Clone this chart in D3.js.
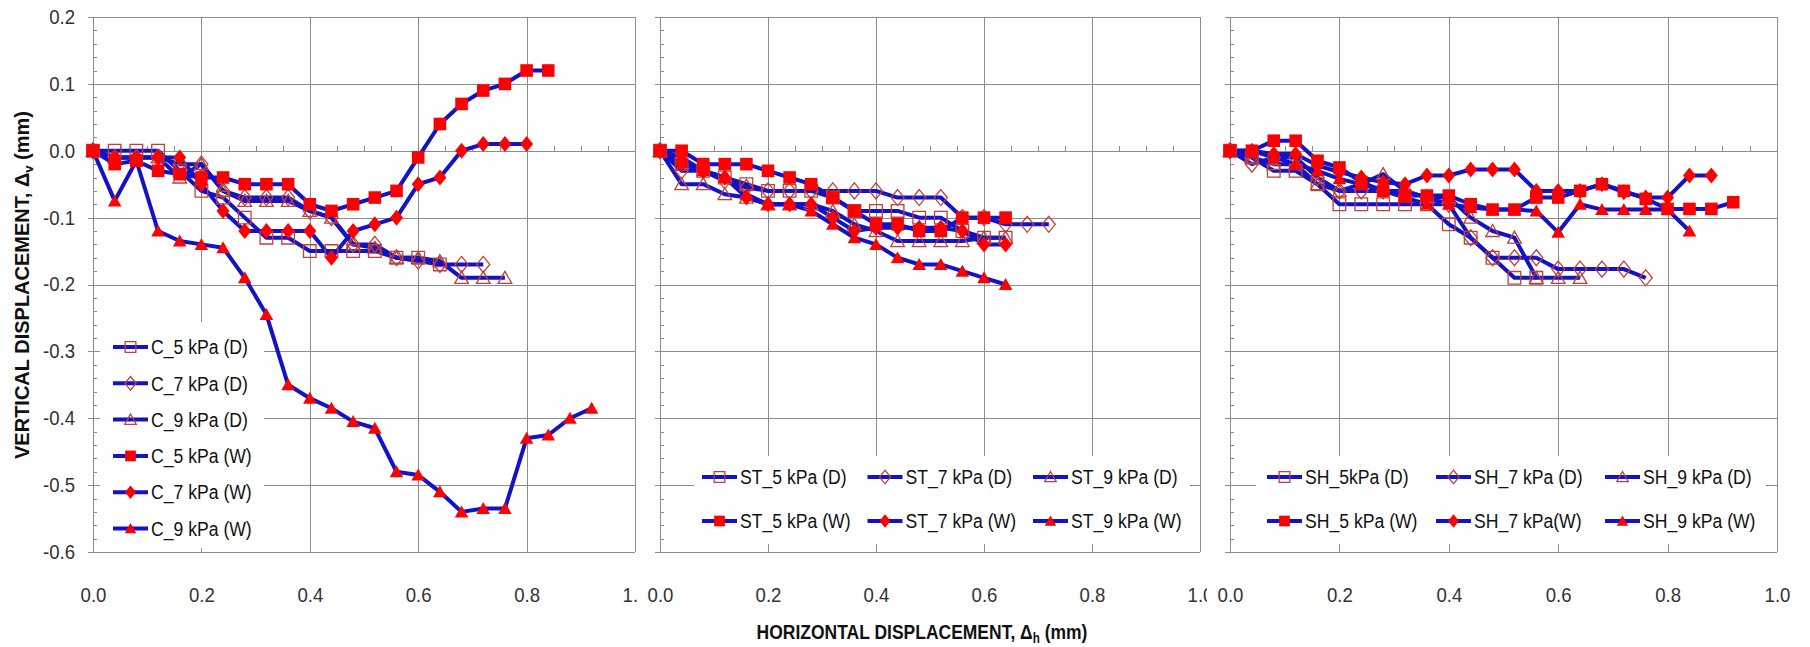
<!DOCTYPE html>
<html>
<head>
<meta charset="utf-8">
<script src="https://cdn.jsdelivr.net/npm/d3@7"></script>
<style>
body { margin: 0; background: #fff; }
svg { display: block; }
.tick text { font-family: 'Liberation Sans', Arial, sans-serif; font-size: 20px; fill: #333; }
.grid line { stroke: #8c8c8c; stroke-width: 1; shape-rendering: crispEdges; }
.grid path { display: none; }
.axis path, .axis line { stroke: #8c8c8c; stroke-width: 1; shape-rendering: crispEdges; }
.legend text { font-family: 'Liberation Sans', Arial, sans-serif; font-size: 20px; fill: #111; }
</style>
</head>
<body>
<div id="chart"></div>
<script>
// horizontal displacement steps (mm) shared by every series
var xSteps = [0, 0.04, 0.08, 0.12, 0.16, 0.2, 0.24, 0.28, 0.32, 0.36, 0.4, 0.44, 0.48, 0.52, 0.56, 0.6, 0.64, 0.68, 0.72, 0.76, 0.8, 0.84, 0.88, 0.92];
var xTicks = [0, 0.2, 0.4, 0.6, 0.8, 1.0];
var yTicks = [0.2, 0.1, 0, -0.1, -0.2, -0.3, -0.4, -0.5, -0.6];

// C panel, vertical displacement (mm)
var cNames = ["C_5 kPa (D)", "C_7 kPa (D)", "C_9 kPa (D)", "C_5 kPa (W)", "C_7 kPa (W)", "C_9 kPa (W)"];
var c5D = [0, 0, 0, 0, -0.03, -0.06, -0.07, -0.10, -0.13, -0.13, -0.15, -0.15, -0.15, -0.15, -0.16, -0.16, -0.17];
var c7D = [0, -0.01, -0.01, -0.01, -0.02, -0.02, -0.06, -0.07, -0.07, -0.07, -0.09, -0.10, -0.14, -0.14, -0.16, -0.165, -0.17, -0.17, -0.17];
var c9D = [0, -0.01, -0.01, -0.01, -0.04, -0.02, -0.06, -0.075, -0.075, -0.075, -0.09, -0.10, -0.14, -0.145, -0.16, -0.16, -0.165, -0.19, -0.19, -0.19];
var c5W = [0, -0.02, -0.015, -0.03, -0.035, -0.04, -0.04, -0.05, -0.05, -0.05, -0.08, -0.09, -0.08, -0.07, -0.06, -0.01, 0.04, 0.07, 0.09, 0.10, 0.12, 0.12];
var c7W = [0, -0.01, -0.01, -0.01, -0.01, -0.05, -0.09, -0.12, -0.12, -0.12, -0.12, -0.16, -0.12, -0.11, -0.10, -0.05, -0.04, 0, 0.01, 0.01, 0.01];
var c9W = [0, -0.075, -0.015, -0.12, -0.135, -0.14, -0.145, -0.19, -0.245, -0.35, -0.37, -0.385, -0.405, -0.415, -0.48, -0.485, -0.51, -0.54, -0.535, -0.535, -0.43, -0.425, -0.40, -0.385];

// ST panel
var stNames = ["ST_5 kPa (D)", "ST_7 kPa (D)", "ST_9 kPa (D)", "ST_5 kPa (W)", "ST_7 kPa (W)", "ST_9 kPa (W)"];
var st5D = [0, -0.02, -0.03, -0.04, -0.05, -0.06, -0.06, -0.06, -0.07, -0.09, -0.09, -0.09, -0.10, -0.10, -0.12, -0.13, -0.13];
var st7D = [0, -0.03, -0.03, -0.045, -0.055, -0.06, -0.06, -0.06, -0.06, -0.06, -0.06, -0.07, -0.07, -0.07, -0.10, -0.10, -0.11, -0.11, -0.11];
var st9D = [0, -0.05, -0.05, -0.065, -0.07, -0.08, -0.08, -0.08, -0.09, -0.11, -0.12, -0.135, -0.135, -0.135, -0.135, -0.13, -0.13];
var st5W = [0, 0, -0.02, -0.02, -0.02, -0.03, -0.04, -0.05, -0.07, -0.09, -0.11, -0.11, -0.12, -0.12, -0.10, -0.10, -0.10];
var st7W = [0, -0.02, -0.03, -0.04, -0.07, -0.08, -0.08, -0.08, -0.10, -0.12, -0.115, -0.115, -0.115, -0.115, -0.12, -0.14, -0.14];
var st9W = [0, -0.01, -0.03, -0.04, -0.065, -0.08, -0.08, -0.09, -0.11, -0.13, -0.14, -0.16, -0.17, -0.17, -0.18, -0.19, -0.20];

// SH panel
var shNames = ["SH_5kPa (D)", "SH_7 kPa (D)", "SH_9 kPa (D)", "SH_5 kPa (W)", "SH_7 kPa(W)", "SH_9 kPa (W)"];
var sh5D = [0, -0.01, -0.03, -0.03, -0.05, -0.08, -0.08, -0.08, -0.08, -0.08, -0.11, -0.13, -0.16, -0.19, -0.19];
var sh7D = [0, -0.02, -0.01, -0.01, -0.04, -0.06, -0.06, -0.06, -0.06, -0.07, -0.08, -0.13, -0.16, -0.16, -0.16, -0.177, -0.177, -0.177, -0.177, -0.19];
var sh9D = [0, -0.01, -0.02, -0.02, -0.05, -0.06, -0.05, -0.035, -0.06, -0.07, -0.07, -0.10, -0.12, -0.13, -0.19, -0.19, -0.19];
var sh5W = [0, 0, 0.015, 0.015, -0.015, -0.025, -0.047, -0.06, -0.067, -0.067, -0.067, -0.08, -0.088, -0.088, -0.07, -0.07, -0.06, -0.05, -0.06, -0.072, -0.087, -0.087, -0.087, -0.077];
var sh7W = [0, 0, -0.005, -0.005, -0.022, -0.032, -0.04, -0.047, -0.05, -0.037, -0.037, -0.028, -0.028, -0.028, -0.06, -0.06, -0.06, -0.05, -0.062, -0.07, -0.07, -0.037, -0.037];
var sh9W = [0, 0, -0.01, -0.02, -0.03, -0.042, -0.05, -0.06, -0.07, -0.08, -0.08, -0.085, -0.088, -0.088, -0.09, -0.122, -0.08, -0.088, -0.088, -0.088, -0.088, -0.12];

var width = 1810, height = 647;
var yTop = 17, yBot = 552;
var lineColor = '#1212c8';
var shapes = ['square', 'diamond', 'triangle', 'square', 'diamond', 'triangle'];

// only the first chart shows its y labels, the others are hidden under their neighbour
var panels = [
	{x0: 93, x1: 635, left: 0, right: 637, ylabels: true, names: cNames, values: [c5D, c7D, c9D, c5W, c7W, c9W],
		legend: {box: [100, 322, 164, 226], x: 113, y: 347, dx: 0, dy: 36.3, cols: 1}},
	{x0: 660, x1: 1200, left: 637, right: 1207, ylabels: false, names: stNames, values: [st5D, st7D, st9D, st5W, st7W, st9W],
		legend: {box: [694, 456, 496, 88], x: 702, y: 477, dx: 165.5, dy: 44, cols: 3}},
	{x0: 1230, x1: 1777, left: 1207, right: 1810, ylabels: false, names: shNames, values: [sh5D, sh7D, sh9D, sh5W, sh7W, sh9W],
		legend: {box: [1256, 456, 510, 88], x: 1267, y: 477, dx: 169, dy: 44, cols: 3}}
];

/**
 * squeezes text horizontally, the original font was a narrow one
 */
function condense(sel, k) {
	sel.each(function() {
		var w = this.getComputedTextLength();
		d3.select(this).attr('textLength', w * k).attr('lengthAdjust', 'spacingAndGlyphs');
	});
}

/**
 * marker outline, centred on 0,0
 */
function markerPath(shape, k) {
	k = k || 1;
	if (shape == 'square') {
		var s = 6.3 * k;
		return 'M' + (-s) + ',' + (-s) + 'H' + s + 'V' + s + 'H' + (-s) + 'Z';
	} else if (shape == 'diamond') {
		return 'M0,' + (-8 * k) + 'L' + (6.5 * k) + ',0L0,' + (8 * k) + 'L' + (-6.5 * k) + ',0Z';
	}
	return 'M0,' + (-6.5 * k) + 'L' + (6.8 * k) + ',' + (5.5 * k) + 'L' + (-6.8 * k) + ',' + (5.5 * k) + 'Z';
}

function styleMarker(sel, i) {
	if (i < 3) {
		sel.attr('fill', 'none').attr('stroke', '#c0403a').attr('stroke-width', 1.3);
	} else {
		sel.attr('fill', '#ff0000').attr('stroke', 'none');
	}
}

var svg = d3.select('#chart').append('svg')
	.attr('width', width)
	.attr('height', height);

panels.forEach(function(p, pi) {
	var clipId = 'area' + pi;
	svg.append('clipPath').attr('id', clipId)
		.append('rect')
		.attr('x', p.left).attr('y', 0)
		.attr('width', p.right - p.left).attr('height', height);
	var g = svg.append('g').attr('clip-path', 'url(#' + clipId + ')');
	g.append('rect')
		.attr('x', p.left).attr('y', 0)
		.attr('width', p.right - p.left).attr('height', height)
		.attr('fill', '#fff');

	var x = d3.scaleLinear().domain([0, 1]).range([p.x0, p.x1]);
	var y = d3.scaleLinear().domain([-0.6, 0.2]).range([yBot, yTop]);

	// grid
	g.append('g')
		.attr('class', 'grid')
		.attr('transform', 'translate(0,' + yBot + ')')
		.call(d3.axisBottom(x).tickValues(xTicks).tickSize(-(yBot - yTop)).tickFormat(''));
	g.append('g')
		.attr('class', 'grid')
		.attr('transform', 'translate(' + p.x0 + ',0)')
		.call(d3.axisLeft(y).tickValues(yTicks).tickSize(-(p.x1 - p.x0)).tickFormat(''));

	// y axis, major ticks out, minor ticks in
	var yax = g.append('g')
		.attr('class', 'axis')
		.attr('transform', 'translate(' + p.x0 + ',0)')
		.call(d3.axisLeft(y).tickValues(yTicks).tickSize(5).tickSizeOuter(0).tickPadding(13)
			.tickFormat(function(d) { return p.ylabels ? d.toFixed(1) : ''; }));
	yax.selectAll('.tick text').call(condense, 0.93);
	g.append('g')
		.attr('class', 'axis')
		.attr('transform', 'translate(' + p.x0 + ',0)')
		.call(d3.axisRight(y).tickValues(d3.ticks(-0.6, 0.2, 40)).tickSize(4).tickSizeOuter(0).tickFormat(''));

	// horizontal axis crosses at zero with minor ticks
	g.append('g')
		.attr('class', 'axis')
		.attr('transform', 'translate(0,' + y(0) + ')')
		.call(d3.axisTop(x).tickValues(d3.ticks(0, 1, 20)).tickSize(5).tickSizeOuter(0).tickFormat(''));

	// x labels sit below the plot
	var xlab = g.append('g')
		.attr('class', 'axis')
		.attr('transform', 'translate(0,588)')
		.call(d3.axisBottom(x).tickValues(xTicks).tickSize(0).tickPadding(0)
			.tickFormat(function(d) { return d.toFixed(1); }));
	xlab.select('.domain').remove();
	xlab.selectAll('.tick text').call(condense, 0.93);

	// series
	var line = d3.line()
		.x(function(d) { return x(d.x); })
		.y(function(d) { return y(d.y); });
	var series = p.values.map(function(vals) {
		return vals.map(function(v, i) { return {x: xSteps[i], y: v}; });
	});
	var data = svg.append('g');
	series.forEach(function(s) {
		data.append('path')
			.datum(s)
			.attr('d', line)
			.attr('fill', 'none')
			.attr('stroke', lineColor)
			.attr('stroke-width', 4)
			.attr('stroke-linejoin', 'round');
	});
	series.forEach(function(s, si) {
		data.selectAll('.m' + si)
			.data(s)
			.enter()
			.append('path')
			.attr('class', 'm' + si)
			.attr('transform', function(d) { return 'translate(' + x(d.x) + ',' + y(d.y) + ')'; })
			.attr('d', markerPath(shapes[si]))
			.call(styleMarker, si);
	});

	// legend
	var lg = p.legend;
	var leg = svg.append('g').attr('class', 'legend');
	leg.append('rect')
		.attr('x', lg.box[0]).attr('y', lg.box[1])
		.attr('width', lg.box[2]).attr('height', lg.box[3])
		.attr('fill', '#fff');
	p.names.forEach(function(name, i) {
		var col = i % lg.cols, row = Math.floor(i / lg.cols);
		var lx = lg.x + col * lg.dx, ly = lg.y + row * lg.dy;
		leg.append('line')
			.attr('x1', lx).attr('x2', lx + 35)
			.attr('y1', ly).attr('y2', ly)
			.attr('stroke', lineColor)
			.attr('stroke-width', 4);
		leg.append('path')
			.attr('transform', 'translate(' + (lx + 17.5) + ',' + ly + ')')
			.attr('d', markerPath(shapes[i], 0.85))
			.call(styleMarker, i);
		leg.append('text')
			.attr('x', lx + 38)
			.attr('y', ly)
			.attr('dy', '0.36em')
			.text(name)
			.call(condense, 0.88);
	});
});

/**
 * title with a subscript, squeezed to the given length and centred
 */
function title(parent, cx, cy, rotate, size, target, main, sub) {
	var t = parent.append('text')
		.style('font-family', "'Liberation Sans', Arial, sans-serif")
		.style('font-weight', 'bold')
		.style('font-size', size + 'px')
		.attr('fill', '#111')
		.attr('text-anchor', 'middle');
	t.append('tspan').text(main + ', Δ');
	t.append('tspan').attr('dy', 4).style('font-size', Math.round(size * 0.65) + 'px').text(sub);
	t.append('tspan').attr('dy', -4).text(' (mm)');
	var k = target / t.node().getComputedTextLength();
	t.attr('transform', 'translate(' + cx + ',' + cy + ')' + (rotate ? ' rotate(-90)' : '') + ' scale(' + k + ',1)');
	return t;
}

title(svg, 29, 285, true, 20, 348, 'VERTICAL DISPLACEMENT', 'v');
title(svg, 922, 639, false, 21, 331, 'HORIZONTAL DISPLACEMENT', 'h');
</script>
</body>
</html>
